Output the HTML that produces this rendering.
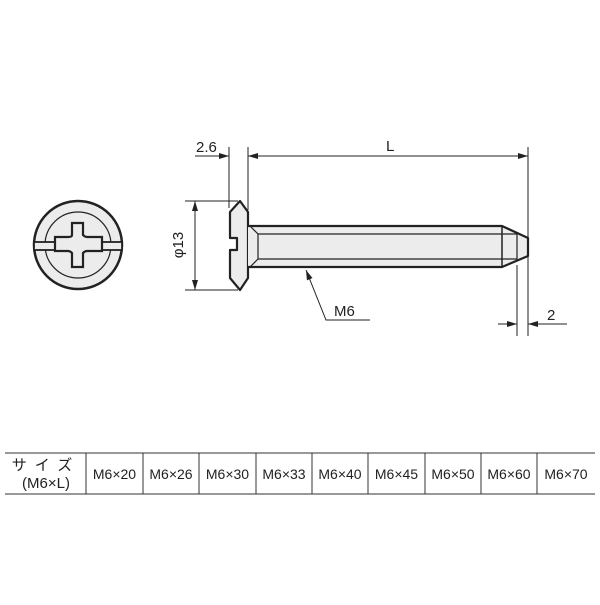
<!DOCTYPE html>
<html><head><meta charset="utf-8"><style>
body{margin:0;background:#fff;width:600px;height:600px;overflow:hidden}
svg text{font-family:"Liberation Sans","Noto Sans CJK JP",sans-serif;fill:#222}
</style></head><body>
<svg width="600" height="600" viewBox="0 0 600 600" xmlns="http://www.w3.org/2000/svg">
<defs>
<marker id="a" viewBox="0 0 10 6" refX="10" refY="3" markerWidth="10" markerHeight="6" orient="auto-start-reverse" markerUnits="userSpaceOnUse"><path d="M0,0L10,3L0,6z" fill="#222"/></marker>
</defs>
<!-- end view -->
<g stroke="#222" fill="#ececec">
<circle cx="78" cy="245" r="44" stroke-width="2.5"/>
<circle cx="78" cy="245" r="33" stroke-width="1.2"/>
<rect x="34" y="242" width="88" height="8" stroke-width="1.8" fill="#ececec"/>
<path d="M72,223h11v12q2,2 4,2h15v14h-15q-2,0 -4,2v14h-11v-14q-2,-2 -4,-2h-13v-14h13q4,0 4,-2z" stroke-width="2.2" fill="#ececec"/>
</g>
<!-- head -->
<g stroke="#222" stroke-width="2.2" fill="#ececec" stroke-linejoin="round">
<path d="M240,201L230,212V238H237V250H230V278L240,290L248,278V212Z"/>
<path d="M248,226H502L528,238V256L502,267H248" />
<path d="M502,226V267" stroke-width="1.5" fill="none"/>
<path d="M517,232V261" stroke-width="1.2" fill="none"/>
<path d="M250,226L258,234H517M250,267L258,259H517M258,234V259" stroke-width="1.2" fill="none"/>
</g>
<!-- dimensions -->
<g stroke="#222" stroke-width="1" fill="none">
<line x1="229" y1="147" x2="229" y2="208"/>
<line x1="248" y1="147" x2="248" y2="210"/>
<line x1="528" y1="147" x2="528" y2="336"/>
<line x1="517" y1="265" x2="517" y2="336"/>
<line x1="195" y1="156" x2="229" y2="156" marker-end="url(#a)"/>
<line x1="248" y1="156" x2="528" y2="156" marker-start="url(#a)" marker-end="url(#a)"/>
<line x1="185" y1="201" x2="238" y2="201"/>
<line x1="185" y1="290" x2="238" y2="290"/>
<line x1="195" y1="201" x2="195" y2="290" marker-start="url(#a)" marker-end="url(#a)"/>
<polyline points="306,270 326,320 370,320" marker-start="url(#a)"/>
<line x1="498" y1="324" x2="517" y2="324" marker-end="url(#a)"/>
<line x1="567" y1="324" x2="528" y2="324" marker-end="url(#a)"/>
</g>
<text x="196" y="152" font-size="15">2.6</text>
<text x="386" y="151" font-size="15">L</text>
<text x="334" y="316" font-size="15">M6</text>
<text x="547" y="320" font-size="15">2</text>
<text transform="translate(183,245) rotate(-90)" text-anchor="middle" font-size="15">φ13</text>
<!-- table -->
<g stroke="#333" stroke-width="1">
<line x1="5" y1="453" x2="595" y2="453"/>
<line x1="5" y1="494" x2="595" y2="494"/>
<line x1="86" y1="453" x2="86" y2="494"/><line x1="143" y1="453" x2="143" y2="494"/>
<line x1="199" y1="453" x2="199" y2="494"/><line x1="256" y1="453" x2="256" y2="494"/>
<line x1="312" y1="453" x2="312" y2="494"/><line x1="368" y1="453" x2="368" y2="494"/>
<line x1="425" y1="453" x2="425" y2="494"/><line x1="481" y1="453" x2="481" y2="494"/>
<line x1="537" y1="453" x2="537" y2="494"/>
</g>
<g font-size="14" text-anchor="middle">
<text x="46" y="470" font-size="15" letter-spacing="8">サイズ</text>
<text x="46" y="488" font-size="15">(M6×L)</text>
<text x="114.5" y="479">M6×20</text><text x="171" y="479">M6×26</text>
<text x="227.5" y="479">M6×30</text><text x="284" y="479">M6×33</text>
<text x="340" y="479">M6×40</text><text x="396.5" y="479">M6×45</text>
<text x="453" y="479">M6×50</text><text x="509" y="479">M6×60</text>
<text x="566" y="479">M6×70</text>
</g>
</svg>
</body></html>
